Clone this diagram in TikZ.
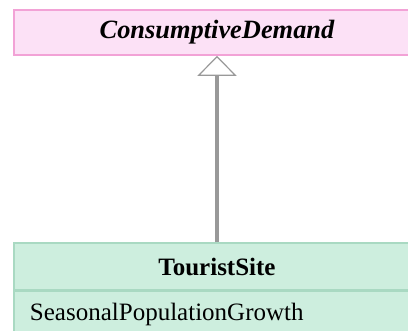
\documentclass[tikz,border=0pt]{standalone}
\usepackage{fontspec}
\setmainfont{Liberation Serif}
\usetikzlibrary{arrows.meta,positioning}
\definecolor{absfill}{HTML}{FCE1F6}
\definecolor{absline}{HTML}{F2A2D6}
\definecolor{clsfill}{HTML}{CDEEDE}
\definecolor{clsline}{HTML}{A9D9C2}
\definecolor{linkc}{HTML}{999999}
\tikzset{
  cls/.style={draw=clsline,fill=clsfill,line width=0.6pt,inner sep=0pt,
    minimum width=203pt,minimum height=23.5pt,align=center,
    font=\fontsize{12.5}{14}\selectfont\bfseries},
  abscls/.style={cls,draw=absline,fill=absfill,minimum height=22.5pt,
    line width=0.8pt,font=\fontsize{13.2}{15}\selectfont\bfseries\itshape},
  attr/.style={cls,align=left,text width=187pt,inner xsep=8pt,
    font=\fontsize{12.5}{14}\selectfont},
  inherit/.style={-{Triangle[open,length=10pt,width=19.5pt,line width=0.6pt]},
    draw=linkc,line width=1.9pt},
}
\begin{document}
\begin{tikzpicture}[x=0.5pt,y=-0.5pt]
  \useasboundingbox (0,0) rectangle (408,331);
  \clip (0,0) rectangle (408,331);
  \node[abscls](demand) at (217,32.5){ConsumptiveDemand};
  \node[cls](site) at (217,266.5){TouristSite};
  \node[attr,below=0pt of site](siteattr){SeasonalPopulationGrowth};
  \draw[inherit](site)--(demand);
\end{tikzpicture}
\end{document}
